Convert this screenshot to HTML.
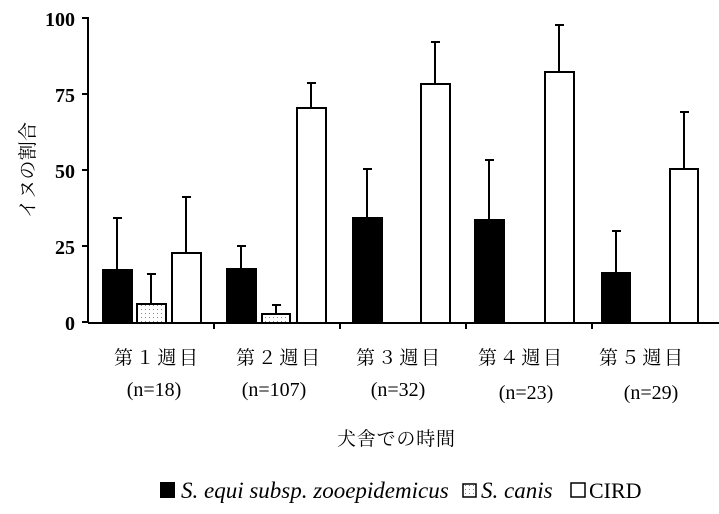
<!DOCTYPE html>
<html><head><meta charset="utf-8"><style>
body{margin:0;background:#fff;}
svg{display:block;}
text{font-family:"Liberation Serif","Noto Serif CJK SC","Noto Sans CJK JP",serif;fill:#000;}
</style></head><body>
<svg width="719" height="514" viewBox="0 0 719 514" xmlns="http://www.w3.org/2000/svg">
<defs><pattern id="dots" width="4" height="4" patternUnits="userSpaceOnUse"><rect width="4" height="4" fill="#fff"/><rect x="1" y="1" width="1" height="1" fill="#888"/></pattern></defs>
<g stroke="#000" stroke-width="2" fill="none">
<line x1="88" y1="17" x2="88" y2="323"/>
<line x1="88" y1="323" x2="722" y2="323"/>
<line x1="82" y1="18" x2="88" y2="18"/><line x1="82" y1="94" x2="88" y2="94"/><line x1="82" y1="170" x2="88" y2="170"/><line x1="82" y1="246" x2="88" y2="246"/><line x1="82" y1="322" x2="88" y2="322"/>
<line x1="214" y1="323" x2="214" y2="329"/><line x1="340" y1="323" x2="340" y2="329"/><line x1="466" y1="323" x2="466" y2="329"/><line x1="592" y1="323" x2="592" y2="329"/>
</g>
<g font-size="20" font-weight="bold" text-anchor="end" style="font-family:'Liberation Sans',sans-serif">
<text x="75" y="26">100</text><text x="75" y="102">75</text><text x="75" y="178">50</text><text x="75" y="254">25</text><text x="75" y="330">0</text>
</g>
<g stroke="#000" stroke-width="2">
<line x1="117" y1="218" x2="117" y2="270"/><line x1="113" y1="218" x2="122" y2="218"/>
<line x1="151" y1="274" x2="151" y2="304"/><line x1="147" y1="274" x2="156" y2="274"/>
<line x1="186" y1="197" x2="186" y2="253"/><line x1="182" y1="197" x2="191" y2="197"/>
<line x1="241" y1="246" x2="241" y2="269"/><line x1="237" y1="246" x2="246" y2="246"/>
<line x1="276" y1="305" x2="276" y2="314"/><line x1="272" y1="305" x2="281" y2="305"/>
<line x1="311" y1="83" x2="311" y2="108"/><line x1="307" y1="83" x2="316" y2="83"/>
<line x1="367" y1="169" x2="367" y2="218"/><line x1="363" y1="169" x2="372" y2="169"/>
<line x1="435" y1="42" x2="435" y2="84"/><line x1="431" y1="42" x2="440" y2="42"/>
<line x1="489" y1="160" x2="489" y2="220"/><line x1="485" y1="160" x2="494" y2="160"/>
<line x1="559" y1="25" x2="559" y2="72"/><line x1="555" y1="25" x2="564" y2="25"/>
<line x1="616" y1="231" x2="616" y2="273"/><line x1="612" y1="231" x2="621" y2="231"/>
<line x1="684" y1="112" x2="684" y2="169"/><line x1="680" y1="112" x2="689" y2="112"/>
</g>
<g stroke="#000" stroke-width="2">
<rect x="103" y="270" width="29" height="53" fill="#000"/>
<rect x="137" y="304" width="29" height="19" fill="url(#dots)"/>
<rect x="172" y="253" width="29" height="70" fill="#fff"/>
<rect x="227" y="269" width="29" height="54" fill="#000"/>
<rect x="262" y="314" width="28" height="9" fill="url(#dots)"/>
<rect x="297" y="108" width="29" height="215" fill="#fff"/>
<rect x="353" y="218" width="29" height="105" fill="#000"/>
<rect x="421" y="84" width="29" height="239" fill="#fff"/>
<rect x="475" y="220" width="29" height="103" fill="#000"/>
<rect x="545" y="72" width="29" height="251" fill="#fff"/>
<rect x="602" y="273" width="28" height="50" fill="#000"/>
<rect x="670" y="169" width="28" height="154" fill="#fff"/>
</g>
<g font-size="19" text-anchor="middle">
<text x="156" y="364" textLength="84">第１週目</text><text x="278" y="364" textLength="84">第２週目</text><text x="398" y="364" textLength="84">第３週目</text><text x="520" y="364" textLength="84">第４週目</text><text x="641" y="364" textLength="84">第５週目</text>
</g>
<g font-size="20" text-anchor="middle">
<text x="154" y="396">(n=18)</text><text x="274" y="396">(n=107)</text><text x="398" y="396">(n=32)</text><text x="526" y="399">(n=23)</text><text x="651" y="399">(n=29)</text>
</g>
<text x="396" y="445" font-size="19" text-anchor="middle" textLength="118">犬舎での時間</text>
<text x="0" y="0" font-size="19" text-anchor="middle" transform="translate(34 170) rotate(-90)" textLength="96">イヌの割合</text>
<rect x="160" y="482" width="15" height="16" fill="#000"/>
<text x="181" y="498" font-size="23" font-style="italic">S. equi subsp. zooepidemicus</text>
<rect x="463" y="484" width="13" height="13" fill="url(#dots)" stroke="#000" stroke-width="1.5"/>
<text x="481" y="498" font-size="23" font-style="italic">S. canis</text>
<rect x="571" y="483" width="14" height="14" fill="#fff" stroke="#000" stroke-width="1.5"/>
<text x="589" y="498" font-size="22">CIRD</text>
</svg>
</body></html>
